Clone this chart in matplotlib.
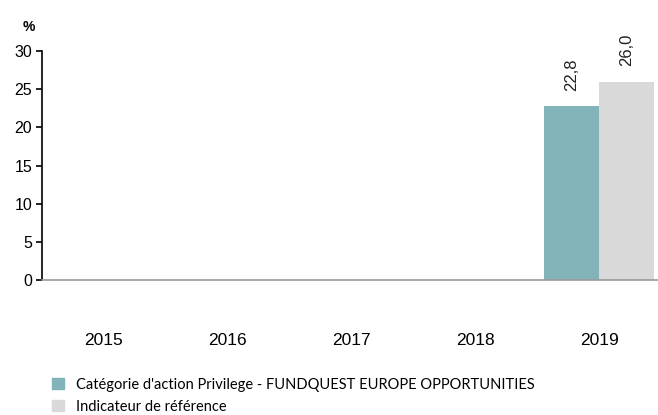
import matplotlib
matplotlib.use("Agg")
import matplotlib.pyplot as plt
from matplotlib.patches import Patch

# data
years = ["2015", "2016", "2017", "2018", "2019"]
fund = [None, None, None, None, 22.8]
benchmark = [None, None, None, None, 26.0]
fund_label = "Catégorie d'action Privilege - FUNDQUEST EUROPE OPPORTUNITIES"
bench_label = "Indicateur de référence"

teal = "#82B3B9"
grey = "#D9D9D9"

fig = plt.figure(figsize=(6.58, 4.15), dpi=100)
ax = fig.add_axes([0.0638, 0.3253, 0.9407, 0.5518])

width = 0.444
for i, (f, b) in enumerate(zip(fund, benchmark)):
    # fund bar to the left of the year centre, benchmark to the right
    if f is not None:
        ax.bar(i - width, f, width=width, align="edge", color=teal)
        ax.text(i - width / 2, f + 2.0, f"{f:.1f}".replace(".", ","), rotation=90,
                ha="center", va="bottom", fontsize=12, family="Liberation Sans", color="#222222")
    if b is not None:
        ax.bar(i, b, width=width, align="edge", color=grey)
        ax.text(i + width / 2, b + 2.0, f"{b:.1f}".replace(".", ","), rotation=90,
                ha="center", va="bottom", fontsize=12, family="Liberation Sans", color="#222222")

ax.set_xlim(-0.5, 4.5)
ax.set_ylim(0, 30)
ax.set_yticks(range(0, 31, 5))
ax.set_yticklabels([str(v) for v in range(0, 31, 5)], family="Liberation Sans", fontsize=11.5)
ax.set_xticks(range(len(years)))
ax.set_xticklabels(years, family="Liberation Sans", fontsize=12.5)
ax.tick_params(axis="x", length=0, pad=38)
ax.tick_params(axis="y", length=4, width=1.2, pad=3)

for s in ["top", "right"]:
    ax.spines[s].set_visible(False)
ax.spines["left"].set_linewidth(1.2)
ax.spines["bottom"].set_color("#999999")
ax.spines["bottom"].set_linewidth(1.2)

fig.text(0.035, 0.935, "%", fontsize=10, fontweight="bold", family="Liberation Sans",
         va="center")

handles = [Patch(color=teal), Patch(color=grey)]
fig.legend(handles, [fund_label, bench_label], loc="upper left",
           bbox_to_anchor=(0.079, 0.09), frameon=False, handlelength=0.85,
           handleheight=0.75, handletextpad=0.8, labelspacing=0.55,
           prop={"family": "Lato", "size": 10.5}, borderaxespad=0, borderpad=0)

fig.savefig("out.png", dpi=100)
